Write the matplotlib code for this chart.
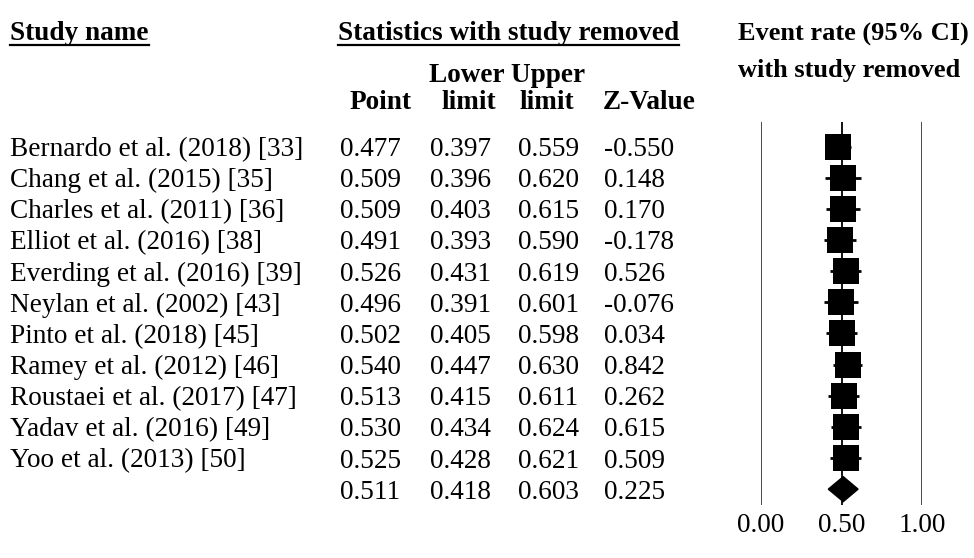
import matplotlib
matplotlib.use("Agg")
import matplotlib.pyplot as plt
from matplotlib import transforms
from matplotlib.lines import Line2D

plt.rcParams["font.family"] = ["Liberation Serif", "DejaVu Serif"]

# Data
studies = [
    "Bernardo et al. (2018) [33]",
    "Chang et al. (2015) [35]",
    "Charles et al. (2011) [36]",
    "Elliot et al. (2016) [38]",
    "Everding et al. (2016) [39]",
    "Neylan et al. (2002) [43]",
    "Pinto et al. (2018) [45]",
    "Ramey et al. (2012) [46]",
    "Roustaei et al. (2017) [47]",
    "Yadav et al. (2016) [49]",
    "Yoo et al. (2013) [50]",
]
point = [0.477, 0.509, 0.509, 0.491, 0.526, 0.496, 0.502, 0.540, 0.513, 0.530, 0.525]
lower = [0.397, 0.396, 0.403, 0.393, 0.431, 0.391, 0.405, 0.447, 0.415, 0.434, 0.428]
upper = [0.559, 0.620, 0.615, 0.590, 0.619, 0.601, 0.598, 0.630, 0.611, 0.624, 0.621]
zval = [-0.550, 0.148, 0.170, -0.178, 0.526, -0.076, 0.034, 0.842, 0.262, 0.615, 0.509]

sum_point, sum_lower, sum_upper, sum_z = 0.511, 0.418, 0.603, 0.225

tick_vals = [0.0, 0.5, 1.0]
tick_labels = ["0.00", "0.50", "1.00"]

W, H = 974, 558
FS = 19.6


def fx(px):
    return px / W


def fy(py):
    return 1 - py / H


fig = plt.figure(figsize=(W / 100, H / 100), dpi=100)

# forest plot panel: rows are placed on data y (0..11)
row0, pitch = 146.5, 31.15
ytop, ybot = -0.8, 11.5
ax_top = row0 + ytop * pitch
ax_bot = row0 + ybot * pitch
ax = fig.add_axes([fx(761), fy(ax_bot), (922 - 761) / W, (ax_bot - ax_top) / H])
ax.set_xlim(0, 1)
ax.set_ylim(ybot, ytop)
for s in ax.spines.values():
    s.set_visible(False)
ax.set_yticks([])
ax.set_xticks(tick_vals)
ax.set_xticklabels(tick_labels, fontsize=FS)
ax.tick_params(axis="x", length=0, pad=6)

ax.axvline(0.0, color="#3a3a3a", lw=1.3, zorder=1)
ax.axvline(1.0, color="#3a3a3a", lw=1.3, zorder=1)
ax.axvline(0.5, color="black", lw=1.3, zorder=1)

rows = list(range(len(studies)))
ax.hlines(rows, lower, upper, color="black", lw=2, zorder=2)
ax.plot(point, rows, "s", color="black", ms=18.8, mew=0, zorder=3)

srow = len(studies)
ax.fill([sum_lower, sum_point, sum_upper, sum_point],
        [srow, srow - 0.4, srow, srow + 0.4], color="black", zorder=3)

# table text: x in figure pixels, y following the forest rows (nudged 3px down)
tr = transforms.offset_copy(
    transforms.blended_transform_factory(fig.transFigure, ax.transData),
    fig=fig, y=-3, units="dots")
for i, name in enumerate(studies):
    fig.text(fx(10), i, name, transform=tr, fontsize=FS, va="center")
    fig.text(fx(340), i, f"{point[i]:.3f}", transform=tr, fontsize=FS, va="center")
    fig.text(fx(430), i, f"{lower[i]:.3f}", transform=tr, fontsize=FS, va="center")
    fig.text(fx(518), i, f"{upper[i]:.3f}", transform=tr, fontsize=FS, va="center")
    fig.text(fx(604), i, f"{zval[i]:.3f}", transform=tr, fontsize=FS, va="center")
fig.text(fx(340), srow, f"{sum_point:.3f}", transform=tr, fontsize=FS, va="center")
fig.text(fx(430), srow, f"{sum_lower:.3f}", transform=tr, fontsize=FS, va="center")
fig.text(fx(518), srow, f"{sum_upper:.3f}", transform=tr, fontsize=FS, va="center")
fig.text(fx(604), srow, f"{sum_z:.3f}", transform=tr, fontsize=FS, va="center")


def header(x, y, s, size=FS):
    return fig.text(fx(x), fy(y + 2), s, fontsize=size, fontweight="bold", va="center")


h1 = header(10, 32, "Study name")
h2 = header(338, 32, "Statistics with study removed")
header(738, 32, "Event rate (95% CI)", 19.0)
header(738, 68, "with study removed", 19.0)
header(429, 73, "Lower Upper")
header(350, 100, "Point")
header(441, 100, "limit")
header(519, 100, "limit")
header(603, 100, "Z-Value")

# underline the two column group headers
fig.canvas.draw()
renderer = fig.canvas.get_renderer()
for t in (h1, h2):
    bb = t.get_window_extent(renderer)
    fig.add_artist(Line2D([bb.x0 / W, bb.x1 / W], [fy(44.5), fy(44.5)],
                          transform=fig.transFigure, color="black", lw=1.6))

fig.savefig("out.png", dpi=100, facecolor="white")
